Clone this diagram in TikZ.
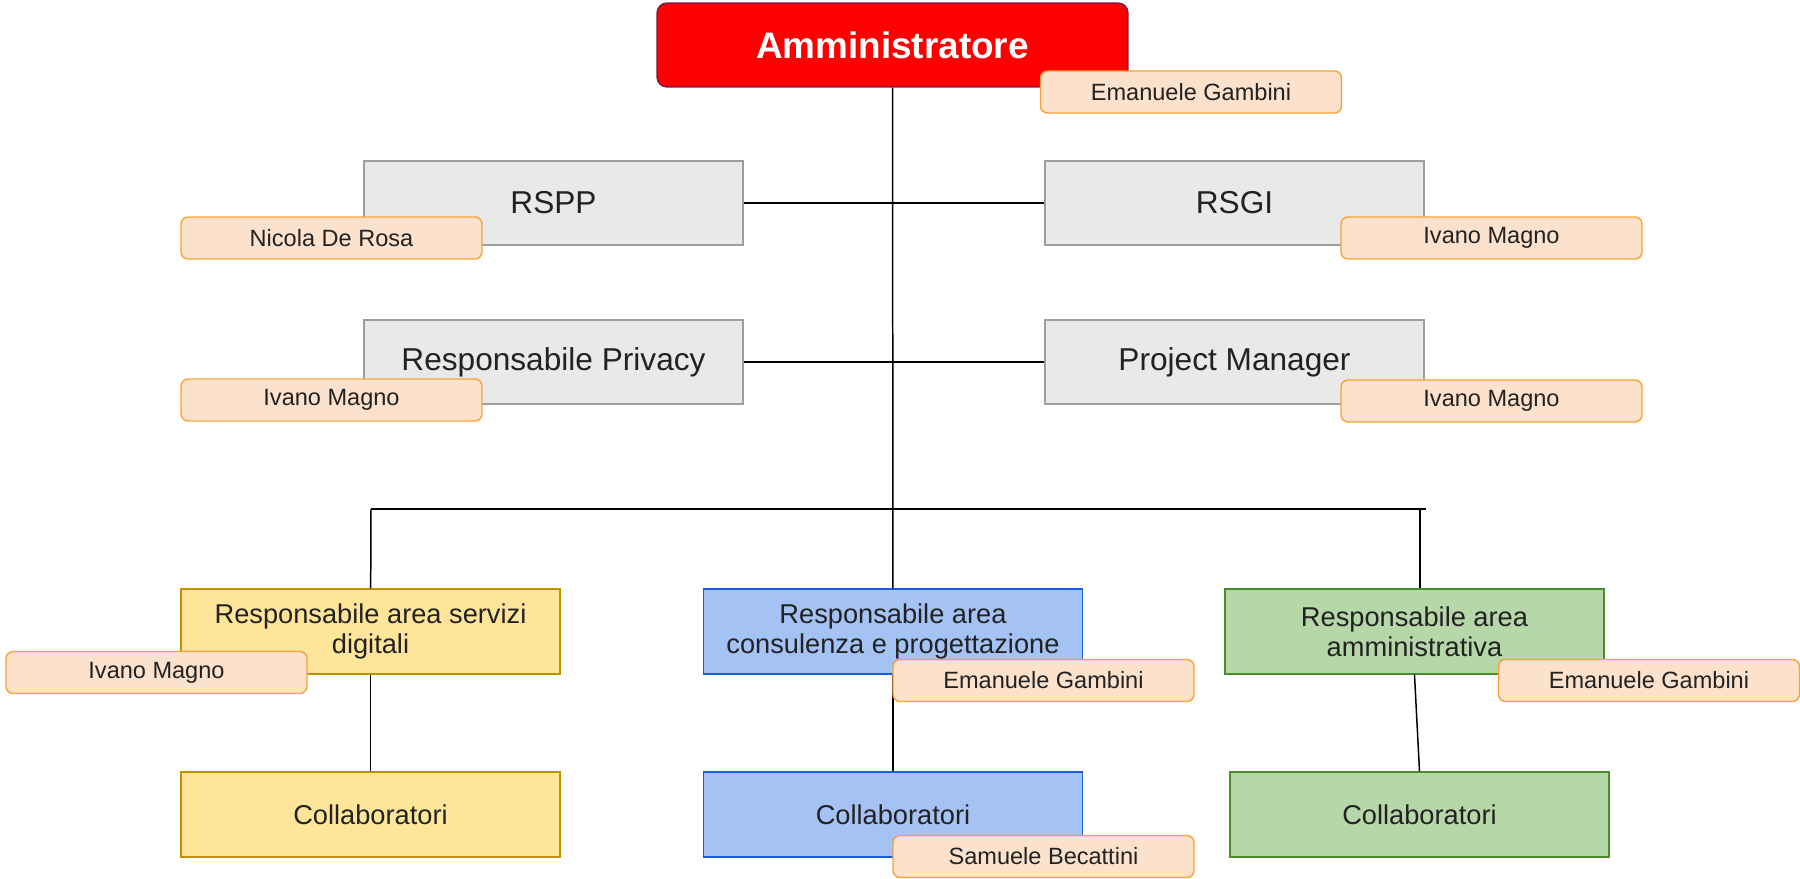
\documentclass[tikz,border=0pt]{standalone}
\usepackage{fontspec}
\setmainfont{Liberation Sans}
\definecolor{adminred}{HTML}{FF0000}
\definecolor{adminrim}{HTML}{741B47}
\definecolor{unitgray}{HTML}{E9E9E9}
\definecolor{unitrim}{HTML}{9E9E9E}
\definecolor{namefill}{HTML}{FCE2CC}
\definecolor{namerim}{HTML}{F9A233}
\definecolor{ylwfill}{HTML}{FFE599}
\definecolor{ylwrim}{HTML}{BF9000}
\definecolor{bluefill}{HTML}{A4C2F4}
\definecolor{bluerim}{HTML}{1C5BD6}
\definecolor{grnfill}{HTML}{B6D7A8}
\definecolor{grnrim}{HTML}{4A8C2A}
\definecolor{ink}{HTML}{222222}

\begin{document}
\begin{tikzpicture}[x=0.02cm,y=-0.02cm,
   every node/.style={align=center,inner sep=0pt,text=ink},
   admin box/.style={draw=adminrim,fill=adminred,rounded corners=0.2cm,line width=0.8pt,
      minimum width=9.42cm,minimum height=1.68cm,text=white,font=\fontsize{21}{24}\selectfont\bfseries},
   unit box/.style={draw=unitrim,fill=unitgray,line width=0.8pt,
      minimum width=7.58cm,minimum height=1.68cm,font=\fontsize{18}{21}\selectfont},
   area box/.style={line width=0.8pt,minimum width=7.58cm,minimum height=1.7cm,
      font=\fontsize{15.5}{17}\selectfont},
   name tag/.style={draw=namerim,fill=namefill,rounded corners=0.14cm,line width=0.8pt,
      minimum width=6.02cm,minimum height=0.84cm,font=\fontsize{13.4}{15}\selectfont},
   link/.style={line width=0.85pt,black}]
\useasboundingbox (0,0) rectangle (1800,879);

\node[admin box] (admin) at (892.5,45) {Amministratore};

\node[unit box] (rspp) at (553.5,203) {RSPP};
\node[unit box] (rsgi) at (1234.5,203) {RSGI};
\node[unit box] (privacy) at (553.5,362) {Responsabile Privacy};
\node[unit box] (pm) at (1234.5,362) {Project Manager};

\node[area box,draw=ylwrim,fill=ylwfill] (servizi) at (370.5,631.5) {Responsabile area servizi\\digitali};
\node[area box,draw=bluerim,fill=bluefill] (consulenza) at (893,631.5) {Responsabile area\\consulenza e progettazione};
\node[area box,draw=grnrim,fill=grnfill] (amministrativa) at (1414.5,631.5) {Responsabile area\\amministrativa};

\node[area box,draw=ylwrim,fill=ylwfill] (collabS) at (370.5,814.5) {Collaboratori};
\node[area box,draw=bluerim,fill=bluefill] (collabC) at (893,814.5) {Collaboratori};
\node[area box,draw=grnrim,fill=grnfill] (collabA) at (1419.5,814.5) {Collaboratori};

\coordinate (busL) at (371,509);
\coordinate (busR) at (1426,509);
\coordinate (busA) at (1420,509);

\draw[link] (admin) -- (consulenza);
\draw[link] (rspp) -- (rsgi);
\draw[link] (privacy) -- (pm);
\draw[link] (busL) -- (busR);
\draw[link] (busL) -- (servizi);
\draw[link] (busA) -- (busA |- amministrativa.north);
\draw[link] (servizi) -- (collabS);
\draw[link] (consulenza) -- (collabC);
\draw[link] (amministrativa.south) -- (collabA.north);

\node[name tag] (gambiniA) at (1191,92) {Emanuele Gambini};
\node[name tag] (derosa) at (331.5,238) {Nicola De Rosa};
\node[name tag] (magnoG) at (1491.5,238) {Ivano Magno};
\node[name tag] (magnoP) at (331.5,400) {Ivano Magno};
\node[name tag] (magnoM) at (1491.5,401) {Ivano Magno};
\node[name tag] (magnoS) at (156.5,672.5) {Ivano Magno};
\node[name tag] (gambiniC) at (1043.5,680.5) {Emanuele Gambini};
\node[name tag] (gambiniM) at (1649,680.5) {Emanuele Gambini};
\node[name tag] (becattini) at (1043.5,856.5) {Samuele Becattini};
\end{tikzpicture}
\end{document}
